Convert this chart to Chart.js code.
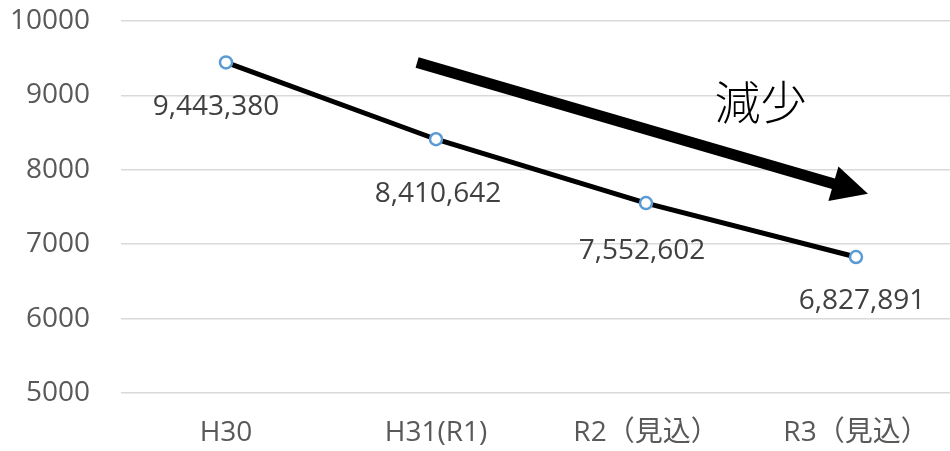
<!DOCTYPE html>
<html><head><meta charset="utf-8">
<script src="https://cdn.jsdelivr.net/npm/chart.js@4/dist/chart.umd.min.js"></script>
<style>
html,body{margin:0;padding:0;background:#fff;overflow:hidden;width:950px;height:451px}
#wrap{width:950px;height:451px;overflow:hidden;position:relative}
canvas{position:absolute;left:0;top:0}
</style></head>
<body><div id="wrap"><canvas id="c" width="961" height="451"></canvas></div>
<script>
// ---- data ----
const categories = ['H30', 'H31(R1)', 'R2（見込）', 'R3（見込）'];
const values = [9443380, 8410642, 7552602, 6827891];
const yMin = 5000000, yMax = 10000000, yStep = 1000000; // ticks shown in thousands
const trendText = '減少';
// trend arrow & text anchors in data units (category index, value)
const arrowFrom = [0.91, 9443000];
const arrowTo = [3.057, 7677000];
const textAt = [2.545, 8915000];

const FONT = '"Open Sans", "Noto Sans CJK JP", sans-serif';

const labelPlugin = {
  id: 'pointLabels',
  afterDatasetsDraw(chart) {
    const ctx = chart.ctx;
    const meta = chart.getDatasetMeta(0);
    const dx = [-10, 2, -4, 6], dy = [45, 55, 48, 44];
    ctx.save();
    ctx.font = '28px ' + FONT;
    ctx.fillStyle = '#404040';
    ctx.textAlign = 'center';
    ctx.textBaseline = 'middle';
    meta.data.forEach((pt, i) => {
      ctx.fillText(values[i].toLocaleString('en-US'), pt.x + dx[i], pt.y + dy[i]);
    });
    ctx.restore();
  }
};

const arrowPlugin = {
  id: 'trendArrow',
  afterDatasetsDraw(chart) {
    const ctx = chart.ctx, xs = chart.scales.x, ys = chart.scales.y;
    const x1 = xs.getPixelForValue(arrowFrom[0]), y1 = ys.getPixelForValue(arrowFrom[1]);
    const x2 = xs.getPixelForValue(arrowTo[0]), y2 = ys.getPixelForValue(arrowTo[1]);
    const ang = Math.atan2(y2 - y1, x2 - x1);
    const len = Math.hypot(x2 - x1, y2 - y1);
    const shaftHalf = 5.5, headLen = 36, headHalf = 18;
    ctx.save();
    ctx.translate(x1, y1);
    ctx.rotate(ang);
    ctx.fillStyle = '#000';
    ctx.beginPath();
    ctx.moveTo(0, -shaftHalf);
    ctx.lineTo(len - headLen, -shaftHalf);
    ctx.lineTo(len - headLen, -headHalf);
    ctx.lineTo(len, 0);
    ctx.lineTo(len - headLen, headHalf);
    ctx.lineTo(len - headLen, shaftHalf);
    ctx.lineTo(0, shaftHalf);
    ctx.closePath();
    ctx.fill();
    ctx.restore();

    ctx.save();
    ctx.font = '300 46px "Noto Sans CJK JP", sans-serif';
    ctx.fillStyle = '#000';
    ctx.textAlign = 'center';
    ctx.textBaseline = 'middle';
    ctx.fillText(trendText, xs.getPixelForValue(textAt[0]), ys.getPixelForValue(textAt[1]));
    ctx.restore();
  }
};

new Chart(document.getElementById('c'), {
  type: 'line',
  data: {
    labels: categories,
    datasets: [{
      data: values,
      borderColor: '#000',
      borderWidth: 5,
      tension: 0,
      pointRadius: 6,
      pointBorderWidth: 2.5,
      pointBorderColor: '#5B9BD5',
      pointBackgroundColor: '#fff',
      fill: false
    }]
  },
  options: {
    responsive: false,
    animation: false,
    layout: { padding: 0, autoPadding: false },
    plugins: { legend: { display: false }, tooltip: { enabled: false } },
    scales: {
      x: {
        offset: true,
        grid: { display: false, drawTicks: false },
        border: { display: false },
        ticks: { font: { family: FONT, size: 28 }, color: '#595959', padding: 23, maxRotation: 0, autoSkip: false },
        afterFit(s) { s.height = 58; s.paddingLeft = 0; s.paddingRight = 0; }
      },
      y: {
        min: yMin, max: yMax,
        grid: { color: '#d9d9d9', lineWidth: 1.5, drawTicks: false },
        border: { display: false },
        ticks: {
          stepSize: yStep,
          font: { family: FONT, size: 28 }, color: '#595959', padding: 31,
          callback: v => String(v / 1000)
        },
        afterFit(s) { s.width = 121; s.paddingTop = 21; s.paddingBottom = 0; }
      }
    }
  },
  plugins: [labelPlugin, arrowPlugin]
});
</script>
</body></html>
